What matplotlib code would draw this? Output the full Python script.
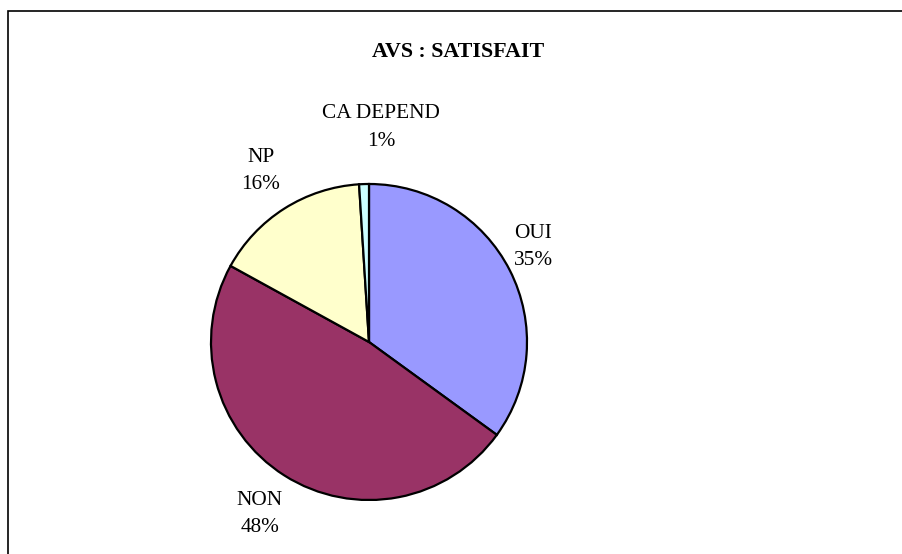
import numpy as np
import matplotlib
matplotlib.use("Agg")
import matplotlib.pyplot as plt
from matplotlib.patches import Rectangle

plt.rcParams['font.family'] = ['Liberation Serif', 'DejaVu Serif']

# data (clockwise from 12 o'clock)
labels = ["OUI", "NON", "NP", "CA DEPEND"]
values = [35, 48, 16, 1]
colors = ["#9999FF", "#993366", "#FFFFCC", "#CCFFFF"]
# how far out each label sits (in pie radii) and small angle nudge (deg)
label_dist = [1.20, 1.29, 1.28, 1.36]
label_nudge = [3, 0, 0, -5]

W, H = 903, 554
fig = plt.figure(figsize=(W / 100, H / 100), dpi=100)

# frame around the chart area (only top/left edges fall inside the picture)
fig.patches.append(Rectangle((8 / W, -0.1), 1.2, 1 - 11 / H + 0.1,
                             transform=fig.transFigure, fill=False,
                             edgecolor="black", linewidth=1.2))

ax = fig.add_axes([0, 0, 1, 1])
cx, cy, r = 369, 342, 158  # pie centre and radius in pixels
wedges, _ = ax.pie(values, colors=colors, startangle=90, counterclock=False,
                   radius=1, wedgeprops=dict(edgecolor="black", linewidth=1.6))
ax.set_aspect("auto")
ax.set_xlim(-cx / r, (W - cx) / r)
ax.set_ylim(-(H - cy) / r, cy / r)
ax.axis("off")

for w, lab, v, d, nud in zip(wedges, labels, values, label_dist, label_nudge):
    ang = np.deg2rad((w.theta1 + w.theta2) / 2 + nud)
    ax.text(d * np.cos(ang), d * np.sin(ang), f"{lab}\n{v}%",
            ha="center", va="center", fontsize=15.3, linespacing=1.6)

fig.text(458 / W, 1 - 52 / H, "AVS : SATISFAIT", ha="center", va="center",
         fontsize=15.8, fontweight="bold")

fig.savefig("out.png", dpi=100)
